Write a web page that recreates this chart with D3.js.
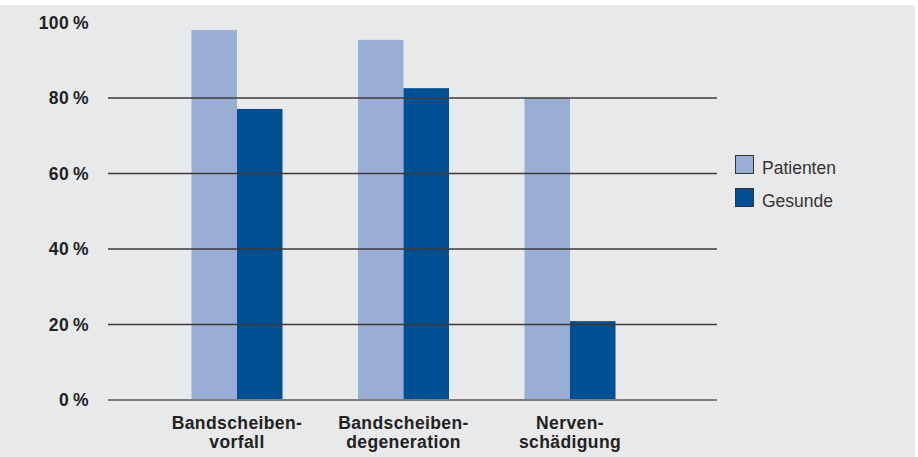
<!DOCTYPE html>
<html><head><meta charset="utf-8">
<script src="https://cdn.jsdelivr.net/npm/d3@7/dist/d3.min.js"></script>
<style>body{margin:0;background:#fff}svg{display:block}</style>
</head><body>
<svg id="c" width="918" height="457"></svg>
<script>
const categories = [["Bandscheiben-","vorfall"],["Bandscheiben-","degeneration"],["Nerven-","schädigung"]];
const seriesNames = ["Patienten","Gesunde"];
const patienten = [98, 95.4, 80];
const gesunde = [77.1, 82.6, 20.9];
const yTicks = [0,20,40,60,80,100];
const colors = ["#9aaed5","#004f93"];

const svg = d3.select("#c");
svg.append("rect").attr("x",0).attr("y",5).attr("width",915).attr("height",452).attr("fill","#e8e9eb");

const y = d3.scaleLinear().domain([0,100]).range([400,22.5]);
const keys = categories.map(c=>c.join(""));
const x = d3.scalePoint().domain(keys).range([237,570]);
const bw = 45.5;
const series = [patienten, gesunde];

// bars
series.forEach((vals,si)=>{
  svg.append("g").selectAll("rect").data(vals).join("rect")
    .attr("x",(d,i)=>x(keys[i]) - bw + si*bw)
    .attr("y",d=>y(d))
    .attr("width",bw)
    .attr("height",d=>y(0)-y(d))
    .attr("fill",colors[si]);
});

// gridlines on top
const gx0 = 108, gx1 = 717;
svg.append("g").selectAll("line").data(yTicks.filter(t=>t>0 && t<100)).join("line")
  .attr("x1",gx0).attr("x2",gx1)
  .attr("y1",d=>y(d)).attr("y2",d=>y(d))
  .attr("stroke","#3b3b3b").attr("stroke-width",1.3);
svg.append("line").attr("x1",gx0).attr("x2",gx1).attr("y1",y(0)).attr("y2",y(0))
  .attr("stroke","#7e7e7e").attr("stroke-width",2);

// y labels
svg.append("g").selectAll("text").data(yTicks).join("text")
  .attr("x",89).attr("y",d=>y(d)+6)
  .attr("text-anchor","end")
  .attr("font-family","Liberation Sans, Arial, sans-serif")
  .attr("font-weight","bold").attr("font-size","17.5px").attr("fill","#222")
  .attr("letter-spacing","0.4px")
  .text(d=>d+"\u2009%");

// category labels
const cl = svg.append("g").selectAll("text").data(categories).join("text")
  .attr("x",(d,i)=>x(keys[i]))
  .attr("text-anchor","middle")
  .attr("font-family","Liberation Sans, Arial, sans-serif")
  .attr("font-weight","bold").attr("font-size","17.5px").attr("fill","#222")
  .attr("letter-spacing","0.4px");
cl.each(function(d,i){
  const t = d3.select(this);
  d.forEach((line,li)=>{
    t.append("tspan").attr("x",x(keys[i])).attr("y",429+li*18.5).text(line);
  });
});

// legend
const lg = svg.append("g");
seriesNames.forEach((n,i)=>{
  lg.append("rect").attr("x",735.5).attr("y",155.5+i*33).attr("width",18).attr("height",18)
    .attr("fill",colors[i]).attr("stroke","#333").attr("stroke-width",1);
  lg.append("text").attr("x",762).attr("y",174+i*33)
    .attr("font-family","Liberation Sans, Arial, sans-serif")
    .attr("font-size","17.5px").attr("fill","#333").text(n);
});
</script>
</body></html>
